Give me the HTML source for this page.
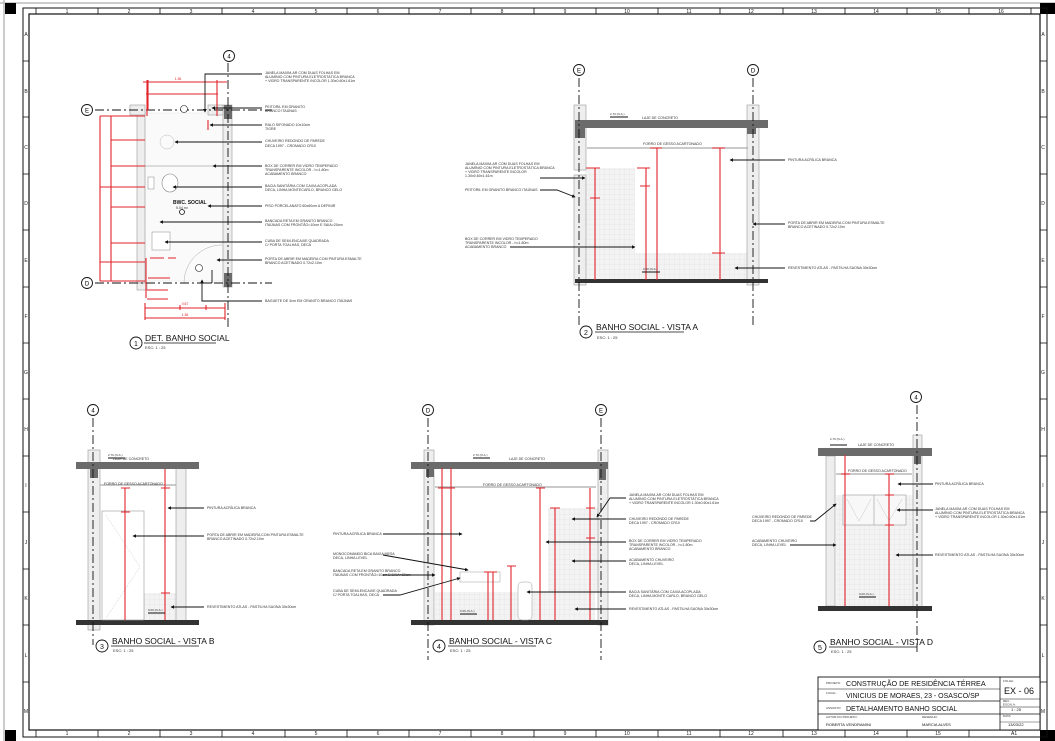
<!DOCTYPE html>
<html><head><meta charset="utf-8">
<style>
html,body{margin:0;padding:0;background:#fff;}
svg{display:block;font-family:"Liberation Sans",sans-serif;}
.t{font-size:3.6px;fill:#333;}
.r{stroke:#e0242b;stroke-width:1.1;fill:none;}
.rt{font-size:3.4px;fill:#e0242b;}
.a{stroke:#111;stroke-width:0.9;fill:none;}
g.a line, g.a polyline{marker-end:url(#ar);}
.dd{stroke:#111;stroke-width:0.9;stroke-dasharray:9 3 2 3;fill:none;}
.w{fill:#eee;stroke:#999;stroke-width:0.6;}
.sl{fill:#6b6b6b;}
.ttl{font-size:8.5px;fill:#111;}
.sc{font-size:4px;fill:#333;}
.lbl{font-size:7px;fill:#111;}
</style></head><body>
<svg width="1055" height="741" viewBox="0 0 1055 741" xmlns="http://www.w3.org/2000/svg">
<defs>
<pattern id="g" width="5" height="5" patternUnits="userSpaceOnUse"><rect width="5" height="5" fill="#f3f3f3"/><path d="M5 0V5H0" stroke="#d6d6d6" stroke-width="0.4" fill="none"/></pattern>
<marker id="ar" viewBox="0 0 6 6" refX="5" refY="3" markerWidth="4" markerHeight="4" orient="auto"><path d="M0 0L6 3L0 6z" fill="#111"/></marker>
</defs>
<rect x="0" y="0" width="1055" height="741" fill="#fff"/>
<line x1="4" y1="0" x2="4" y2="741" stroke="#bbb" stroke-width="1.5"/>
<line x1="0" y1="3" x2="1055" y2="3" stroke="#bbb" stroke-width="1.5"/>
<rect x="5" y="3" width="11" height="11" fill="#000"/>
<rect x="1040" y="3" width="15" height="11" fill="#000"/>
<rect x="5" y="730" width="11" height="11" fill="#000"/>
<rect x="1040" y="730" width="15" height="11" fill="#000"/>
<rect x="23" y="8" width="1024" height="729" fill="none" stroke="#111" stroke-width="1"/>
<rect x="29" y="14" width="1011" height="716" fill="none" stroke="#111" stroke-width="1.2"/>
<g stroke="#111" stroke-width="0.8">
<line x1="36" y1="8" x2="36" y2="14"/><line x1="98" y1="8" x2="98" y2="14"/><line x1="160" y1="8" x2="160" y2="14"/><line x1="222" y1="8" x2="222" y2="14"/><line x1="285" y1="8" x2="285" y2="14"/><line x1="347" y1="8" x2="347" y2="14"/><line x1="409" y1="8" x2="409" y2="14"/><line x1="471" y1="8" x2="471" y2="14"/><line x1="534" y1="8" x2="534" y2="14"/><line x1="596" y1="8" x2="596" y2="14"/><line x1="658" y1="8" x2="658" y2="14"/><line x1="720" y1="8" x2="720" y2="14"/><line x1="783" y1="8" x2="783" y2="14"/><line x1="845" y1="8" x2="845" y2="14"/><line x1="907" y1="8" x2="907" y2="14"/><line x1="969" y1="8" x2="969" y2="14"/><line x1="1031" y1="8" x2="1031" y2="14"/>
<line x1="36" y1="730" x2="36" y2="737"/><line x1="98" y1="730" x2="98" y2="737"/><line x1="160" y1="730" x2="160" y2="737"/><line x1="222" y1="730" x2="222" y2="737"/><line x1="285" y1="730" x2="285" y2="737"/><line x1="347" y1="730" x2="347" y2="737"/><line x1="409" y1="730" x2="409" y2="737"/><line x1="471" y1="730" x2="471" y2="737"/><line x1="534" y1="730" x2="534" y2="737"/><line x1="596" y1="730" x2="596" y2="737"/><line x1="658" y1="730" x2="658" y2="737"/><line x1="720" y1="730" x2="720" y2="737"/><line x1="783" y1="730" x2="783" y2="737"/><line x1="845" y1="730" x2="845" y2="737"/><line x1="907" y1="730" x2="907" y2="737"/><line x1="969" y1="730" x2="969" y2="737"/>
<line x1="23" y1="61" x2="29" y2="61"/><line x1="23" y1="117" x2="29" y2="117"/><line x1="23" y1="174" x2="29" y2="174"/><line x1="23" y1="230" x2="29" y2="230"/><line x1="23" y1="287" x2="29" y2="287"/><line x1="23" y1="343" x2="29" y2="343"/><line x1="23" y1="399" x2="29" y2="399"/><line x1="23" y1="456" x2="29" y2="456"/><line x1="23" y1="512" x2="29" y2="512"/><line x1="23" y1="569" x2="29" y2="569"/><line x1="23" y1="625" x2="29" y2="625"/><line x1="23" y1="682" x2="29" y2="682"/>
<line x1="1040" y1="61" x2="1047" y2="61"/><line x1="1040" y1="117" x2="1047" y2="117"/><line x1="1040" y1="174" x2="1047" y2="174"/><line x1="1040" y1="230" x2="1047" y2="230"/><line x1="1040" y1="287" x2="1047" y2="287"/><line x1="1040" y1="343" x2="1047" y2="343"/><line x1="1040" y1="399" x2="1047" y2="399"/><line x1="1040" y1="456" x2="1047" y2="456"/><line x1="1040" y1="512" x2="1047" y2="512"/><line x1="1040" y1="569" x2="1047" y2="569"/><line x1="1040" y1="625" x2="1047" y2="625"/><line x1="1040" y1="682" x2="1047" y2="682"/>
</g>
<g font-size="5" fill="#222" text-anchor="middle">
<text x="67" y="13">1</text><text x="129" y="13">2</text><text x="191" y="13">3</text><text x="253" y="13">4</text><text x="316" y="13">5</text><text x="378" y="13">6</text><text x="440" y="13">7</text><text x="502" y="13">8</text><text x="565" y="13">9</text><text x="627" y="13">10</text><text x="689" y="13">11</text><text x="751" y="13">12</text><text x="814" y="13">13</text><text x="876" y="13">14</text><text x="938" y="13">15</text><text x="1001" y="13">16</text>
<text x="67" y="735">1</text><text x="129" y="735">2</text><text x="191" y="735">3</text><text x="253" y="735">4</text><text x="316" y="735">5</text><text x="378" y="735">6</text><text x="440" y="735">7</text><text x="502" y="735">8</text><text x="565" y="735">9</text><text x="627" y="735">10</text><text x="689" y="735">11</text><text x="751" y="735">12</text><text x="814" y="735">13</text><text x="876" y="735">14</text><text x="938" y="735">15</text>
<text x="26" y="36">A</text><text x="26" y="93">B</text><text x="26" y="149">C</text><text x="26" y="205">D</text><text x="26" y="262">E</text><text x="26" y="318">F</text><text x="26" y="374">G</text><text x="26" y="431">H</text><text x="26" y="487">I</text><text x="26" y="544">J</text><text x="26" y="600">K</text><text x="26" y="657">L</text><text x="26" y="713">M</text>
<text x="1043" y="36">A</text><text x="1043" y="93">B</text><text x="1043" y="149">C</text><text x="1043" y="205">D</text><text x="1043" y="262">E</text><text x="1043" y="318">F</text><text x="1043" y="374">G</text><text x="1043" y="431">H</text><text x="1043" y="487">I</text><text x="1043" y="544">J</text><text x="1043" y="600">K</text><text x="1043" y="657">L</text><text x="1043" y="713">M</text>
</g>

<!-- VIEW 1 -->
<g>
<rect x="145" y="113" width="78" height="168" fill="#fafafa" stroke="#ddd" stroke-width="0.4"/>
<rect x="137" y="110" width="8" height="173" class="w"/>
<rect x="223" y="105" width="9" height="182" class="w"/>
<rect x="130" y="105" width="15" height="10" class="w"/>
<rect x="208" y="105" width="15" height="10" class="w"/>
<rect x="224" y="105" width="8" height="14" class="sl"/>
<rect x="224" y="273" width="8" height="14" class="sl"/>
<rect x="137" y="283" width="10" height="7" class="w"/>
<ellipse cx="170" cy="183" rx="8" ry="9" fill="#fff" stroke="#888" stroke-width="0.6"/>
<rect x="148" y="177" width="6" height="12" fill="#fff" stroke="#888" stroke-width="0.5"/>
<circle cx="167" cy="142" r="7" fill="none" stroke="#bbb" stroke-width="0.5"/>
<line x1="145" y1="166" x2="222" y2="166" stroke="#aaa" stroke-width="0.7"/>
<rect x="152" y="232" width="18" height="18" fill="#fff" stroke="#888" stroke-width="0.5"/>
<path d="M222 245 A38 38 0 0 0 184 283" fill="none" stroke="#aaa" stroke-width="0.5"/>
<line x1="95" y1="110" x2="272" y2="110" class="dd"/>
<line x1="95" y1="283" x2="272" y2="283" class="dd"/>
<line x1="228" y1="63" x2="228" y2="330" class="dd"/>
<circle cx="87" cy="110" r="5.5" fill="#fff" stroke="#111" stroke-width="0.9"/><text x="87" y="112.5" font-size="6" text-anchor="middle">E</text>
<circle cx="87" cy="283" r="5.5" fill="#fff" stroke="#111" stroke-width="0.9"/><text x="87" y="285.5" font-size="6" text-anchor="middle">D</text>
<circle cx="229" cy="56" r="5.5" fill="#fff" stroke="#111" stroke-width="0.9"/><text x="229" y="58.5" font-size="6" text-anchor="middle">4</text>
<circle cx="184" cy="109" r="3.5" fill="#fff" stroke="#111" stroke-width="0.6"/>
<circle cx="199" cy="268" r="3.5" fill="#fff" stroke="#111" stroke-width="0.6"/>
<path class="r" d="M100 116V281M111 116V281M100 116H145M111 140H145M111 166H145M100 187H145M111 207H145M111 243H145M100 262H145M100 281H145M147 80V116M217 80V116M143 82H227M148 80V110M146 94H218M146 258V298M164 258H150M168 258H176M148 278H170M147 290H168M147 299H168M145 303V320M225 303V320M145 308H225M145 318H225M180 305V310M206 305V310M208 120V130M213 125H225"/>
<text class="rt" x="178" y="80" text-anchor="middle">1.36</text>
<text class="rt" x="185" y="305" text-anchor="middle">0.67</text>
<text class="rt" x="185" y="316" text-anchor="middle">1.36</text>
<text x="173" y="204" font-size="5" font-weight="bold" fill="#111">BWC. SOCIAL</text>
<text x="176" y="209" font-size="3.5" fill="#333">5.04 m²</text>
<circle cx="182" cy="212" r="2.5" fill="none" stroke="#111" stroke-width="0.8"/>
<g class="a">
<polyline points="262,74 205,74 205,112"/>
<line x1="262" y1="108" x2="212" y2="108"/>
<line x1="262" y1="125" x2="210" y2="125"/>
<line x1="262" y1="142" x2="175" y2="142"/>
<line x1="262" y1="166" x2="213" y2="166"/>
<line x1="262" y1="187" x2="173" y2="187"/>
<line x1="262" y1="206" x2="208" y2="206"/>
<line x1="262" y1="222" x2="160" y2="222"/>
<line x1="262" y1="242" x2="165" y2="242"/>
<line x1="262" y1="260" x2="217" y2="260"/>
<polyline points="262,301 202,301 202,280"/>
<path d="M212 283V270M212 283H203"/>
</g>
<g class="t">
<text x="265" y="74">JANELA MAXIM-AR COM DUAS FOLHAS EM</text><text x="265" y="78">ALUMÍNIO COM PINTURA ELETROSTÁTICA BRANCA</text><text x="265" y="82">+ VIDRO TRANSPARENTE INCOLOR 1.30x0.60x1.61m</text>
<text x="265" y="108">PEITORIL EM GRANITO</text><text x="265" y="112">BRANCO ITAÚNAS</text>
<text x="265" y="126">RALO SIFONADO 10x10cm</text><text x="265" y="130">TIGRE</text>
<text x="265" y="142">CHUVEIRO REDONDO DE PAREDE</text><text x="265" y="147">DECA 1997 - CROMADO CR10</text>
<text x="265" y="167">BOX DE CORRER EM VIDRO TEMPERADO</text><text x="265" y="171">TRANSPARENTE INCOLOR - h=1.80m</text><text x="265" y="175">ACABAMENTO BRANCO</text>
<text x="265" y="187">BACIA SANITÁRIA COM CAIXA ACOPLADA</text><text x="265" y="191">DECA, LINHA MONTECARLO, BRANCO GELO</text>
<text x="265" y="207">PISO PORCELANATO 60x60cm A DEFINIR</text>
<text x="265" y="222">BANCADA RETA EM GRANITO BRANCO</text><text x="265" y="226">ITAÚNAS COM FRONTÃO=10cm E SAIA=20cm</text>
<text x="265" y="242">CUBA DE SEMI-ENCAIXE QUADRADA</text><text x="265" y="246">C/ PORTA TOALHAS, DECA</text>
<text x="265" y="260">PORTA DE ABRIR EM MADEIRA COM PINTURA ESMALTE</text><text x="265" y="264">BRANCO ACETINADO 0.72x2.10m</text>
<text x="265" y="302">BAGUETE DE 3cm EM GRANITO BRANCO ITAÚNAS</text>
</g>
<circle cx="136" cy="343" r="6" fill="#fff" stroke="#111" stroke-width="0.9"/><text x="136" y="346" class="lbl" text-anchor="middle">1</text>
<text x="145" y="341" class="ttl">DET. BANHO SOCIAL</text>
<line x1="144" y1="343" x2="216" y2="343" stroke="#111" stroke-width="0.7"/>
<text x="145" y="349" class="sc">ESC:  1 : 25</text>
</g>

<!-- VISTA A -->
<g>
<rect x="585" y="168" width="50" height="112" fill="url(#g)"/>
<rect x="635" y="253" width="113" height="27" fill="url(#g)"/>
<rect x="574" y="105" width="12" height="65" class="w"/>
<rect x="574" y="175" width="12" height="110" class="w"/>
<rect x="747" y="105" width="12" height="180" class="w"/>
<rect x="575" y="120" width="193" height="8" class="sl"/>
<rect x="575" y="120" width="10" height="18" class="sl"/>
<rect x="747" y="120" width="9" height="14" class="sl"/>
<rect x="575" y="279" width="193" height="4" fill="#333"/>
<line x1="587" y1="148" x2="748" y2="148" stroke="#aaa" stroke-width="1.3"/>
<line x1="579" y1="78" x2="579" y2="325" class="dd"/>
<line x1="753" y1="78" x2="753" y2="325" class="dd"/>
<circle cx="579" cy="70" r="5.5" fill="#fff" stroke="#111" stroke-width="0.9"/><text x="579" y="72.5" font-size="6" text-anchor="middle">E</text>
<circle cx="753" cy="70" r="5.5" fill="#fff" stroke="#111" stroke-width="0.9"/><text x="753" y="72.5" font-size="6" text-anchor="middle">D</text>
<path class="r" d="M595 168V280M646 168V280M657 148V280M720 148V280M586 168H600M590 198H600M637 168H650M640 186H650M650 148H662M712 148H725M712 253H725"/>
<line x1="610" y1="117" x2="628" y2="117" class="a"/><line x1="642" y1="272" x2="660" y2="272" class="a"/>
<text x="610" y="115" font-size="3" fill="#333">2.70 (N.A.)</text>
<text x="643" y="270" font-size="3" fill="#333">0.00 (N.A.)</text>
<text x="642" y="119" class="t">LAJE DE CONCRETO</text>
<text x="643" y="145" class="t">FORRO DE GESSO ACARTONADO</text>
<g class="a">
<line x1="540" y1="178" x2="585" y2="178"/>
<polyline points="540,190 557,190 575,197"/>
<line x1="510" y1="247" x2="635" y2="247"/>
<line x1="785" y1="160" x2="730" y2="160"/>
<line x1="785" y1="224" x2="753" y2="224"/>
<line x1="785" y1="268" x2="735" y2="268"/>
</g>
<g class="t">
<text x="465" y="165">JANELA MAXIM-AR COM DUAS FOLHAS EM</text><text x="465" y="169">ALUMÍNIO COM PINTURA ELETROSTÁTICA BRANCA</text><text x="465" y="173">+ VIDRO TRANSPARENTE INCOLOR</text><text x="465" y="177">1.30x0.60x1.61m</text>
<text x="465" y="191">PEITORIL EM GRANITO BRANCO ITAÚNAS</text>
<text x="465" y="240">BOX DE CORRER EM VIDRO TEMPERADO</text><text x="465" y="244">TRANSPARENTE INCOLOR - h=1.80m</text><text x="465" y="248">ACABAMENTO BRANCO</text>
<text x="788" y="161">PINTURA ACRÍLICA BRANCA</text>
<text x="788" y="224">PORTA DE ABRIR EM MADEIRA COM PINTURA ESMALTE</text><text x="788" y="228">BRANCO ACETINADO 0.72x2.10m</text>
<text x="788" y="269">REVESTIMENTO ATLAS - PASTILHA SAONA 30x30cm</text>
</g>
<circle cx="586" cy="332" r="6" fill="#fff" stroke="#111" stroke-width="0.9"/><text x="586" y="335" class="lbl" text-anchor="middle">2</text>
<text x="596" y="330" class="ttl">BANHO SOCIAL - VISTA A</text>
<line x1="595" y1="332" x2="684" y2="332" stroke="#111" stroke-width="0.7"/>
<text x="597" y="339" class="sc">ESC:  1 : 25</text>
</g>

<!-- VISTA B -->
<g>
<rect x="144" y="593" width="32" height="28" fill="url(#g)"/>
<rect x="88" y="450" width="12" height="180" class="w"/>
<rect x="176" y="468" width="10" height="155" class="w"/>
<rect x="76" y="462" width="123" height="7" class="sl"/>
<rect x="90" y="462" width="8" height="16" class="sl"/>
<rect x="76" y="620" width="123" height="5" fill="#333"/>
<line x1="100" y1="485" x2="176" y2="485" stroke="#aaa" stroke-width="1.3"/>
<rect x="102" y="511" width="42" height="109" fill="#fff" stroke="#999" stroke-width="0.6"/>
<polyline points="106,515 140,567 106,618" fill="none" stroke="#bbb" stroke-width="0.4" stroke-dasharray="2 1"/>
<line x1="93" y1="418" x2="93" y2="645" class="dd"/>
<circle cx="93" cy="410" r="5.5" fill="#fff" stroke="#111" stroke-width="0.9"/><text x="93" y="412.5" font-size="6" text-anchor="middle">4</text>
<path class="r" d="M125 488V620M165 469V620M121 488H130M121 512H130M161 488H170M161 593H170"/>
<line x1="108" y1="458" x2="125" y2="458" class="a"/><text x="108" y="456" font-size="3" fill="#333">2.70 (N.A.)</text>
<line x1="148" y1="613" x2="165" y2="613" class="a"/><text x="148" y="611" font-size="3" fill="#333">0.00 (N.A.)</text>
<text x="113" y="460" class="t">LAJE DE CONCRETO</text>
<text x="104" y="485" class="t">FORRO DE GESSO ACARTONADO</text>
<g class="a"><line x1="204" y1="508" x2="168" y2="508"/><line x1="204" y1="536" x2="133" y2="536"/><line x1="204" y1="607" x2="171" y2="607"/></g>
<g class="t">
<text x="207" y="509">PINTURA ACRÍLICA BRANCA</text>
<text x="207" y="536">PORTA DE ABRIR EM MADEIRA COM PINTURA ESMALTE</text><text x="207" y="540">BRANCO ACETINADO 0.72x2.10m</text>
<text x="207" y="608">REVESTIMENTO ATLAS - PASTILHA SAONA 30x30cm</text>
</g>
<circle cx="102" cy="646" r="6" fill="#fff" stroke="#111" stroke-width="0.9"/><text x="102" y="649" class="lbl" text-anchor="middle">3</text>
<text x="112" y="644" class="ttl">BANHO SOCIAL - VISTA B</text>
<line x1="111" y1="646" x2="199" y2="646" stroke="#111" stroke-width="0.7"/>
<text x="113" y="652" class="sc">ESC:  1 : 25</text>
</g>

<!-- VISTA C -->
<g>
<rect x="435" y="592" width="160" height="29" fill="url(#g)"/>
<rect x="548" y="508" width="50" height="84" fill="url(#g)"/>
<rect x="424" y="450" width="10" height="175" class="w"/>
<rect x="598" y="450" width="10" height="175" class="w"/>
<rect x="411" y="462" width="197" height="7" class="sl"/>
<rect x="426" y="462" width="8" height="15" class="sl"/>
<rect x="599" y="462" width="7" height="18" class="sl"/>
<rect x="411" y="620" width="197" height="5" fill="#333"/>
<line x1="435" y1="487" x2="596" y2="487" stroke="#aaa" stroke-width="1.3"/>
<rect x="460" y="572" width="40" height="10" fill="#fff" stroke="#999" stroke-width="0.5"/>
<rect x="518" y="582" width="14" height="38" rx="4" fill="#fff" stroke="#999" stroke-width="0.5"/>
<line x1="428" y1="418" x2="428" y2="660" class="dd"/>
<line x1="601" y1="418" x2="601" y2="660" class="dd"/>
<circle cx="428" cy="410" r="5.5" fill="#fff" stroke="#111" stroke-width="0.9"/><text x="428" y="412.5" font-size="6" text-anchor="middle">D</text>
<circle cx="601" cy="410" r="5.5" fill="#fff" stroke="#111" stroke-width="0.9"/><text x="601" y="412.5" font-size="6" text-anchor="middle">E</text>
<path class="r" d="M442 468V620M451 468V620M540 488V620M590 488V620M555 508V620M488 572V620M493 572V620M511 566V620M438 488H455M536 488H545M550 508H560M586 508H595M586 538H595M484 572H497M507 566H516"/>
<line x1="473" y1="458" x2="490" y2="458" class="a"/><text x="473" y="456" font-size="3" fill="#333">2.70 (N.A.)</text>
<line x1="460" y1="614" x2="477" y2="614" class="a"/><text x="460" y="612" font-size="3" fill="#333">0.00 (N.A.)</text>
<text x="509" y="460" class="t">LAJE DE CONCRETO</text>
<text x="483" y="486" class="t">FORRO DE GESSO ACARTONADO</text>
<g class="a">
<line x1="383" y1="534" x2="462" y2="534"/>
<line x1="383" y1="555" x2="468" y2="570"/>
<line x1="383" y1="575" x2="435" y2="575"/>
<polyline points="383,595 400,595 460,578"/>
<polyline points="626,498 610,498 597,517"/>
<line x1="626" y1="519" x2="572" y2="519"/>
<line x1="626" y1="542" x2="546" y2="542"/>
<line x1="626" y1="561" x2="572" y2="561"/>
<line x1="626" y1="592" x2="527" y2="592"/>
<line x1="626" y1="609" x2="575" y2="609"/>
</g>
<g class="t">
<text x="333" y="535">PINTURA ACRÍLICA BRANCA</text>
<text x="333" y="555">MONOCOMANDO BICA BAIXA MESA</text><text x="333" y="559">DECA, LINHA LEVEL</text>
<text x="333" y="572">BANCADA RETA EM GRANITO BRANCO</text><text x="333" y="576">ITAÚNAS COM FRONTÃO=10cm E SAIA=20cm</text>
<text x="333" y="592">CUBA DE SEMI-ENCAIXE QUADRADA</text><text x="333" y="596">C/ PORTA TOALHAS, DECA</text>
<text x="629" y="496">JANELA MAXIM-AR COM DUAS FOLHAS EM</text><text x="629" y="500">ALUMÍNIO COM PINTURA ELETROSTÁTICA BRANCA</text><text x="629" y="504">+ VIDRO TRANSPARENTE INCOLOR 1.30x0.60x1.61m</text>
<text x="629" y="520">CHUVEIRO REDONDO DE PAREDE</text><text x="629" y="524">DECA 1997 - CROMADO CR10</text>
<text x="629" y="542">BOX DE CORRER EM VIDRO TEMPERADO</text><text x="629" y="546">TRANSPARENTE INCOLOR - h=1.80m</text><text x="629" y="550">ACABAMENTO BRANCO</text>
<text x="629" y="561">ACABAMENTO CHUVEIRO</text><text x="629" y="565">DECA,  LINHA LEVEL</text>
<text x="629" y="593">BACIA SANITÁRIA COM CAIXA ACOPLADA</text><text x="629" y="597">DECA, LINHA MONTE CARLO, BRANCO GELO</text>
<text x="629" y="610">REVESTIMENTO ATLAS - PASTILHA SAONA 30x30cm</text>
</g>
<circle cx="439" cy="646" r="6" fill="#fff" stroke="#111" stroke-width="0.9"/><text x="439" y="649" class="lbl" text-anchor="middle">4</text>
<text x="449" y="644" class="ttl">BANHO SOCIAL - VISTA C</text>
<line x1="448" y1="646" x2="536" y2="646" stroke="#111" stroke-width="0.7"/>
<text x="450" y="652" class="sc">ESC:  1 : 25</text>
</g>

<!-- VISTA D -->
<g>
<rect x="836" y="495" width="77" height="111" fill="url(#g)"/>
<rect x="826" y="456" width="9" height="150" class="w"/>
<rect x="913" y="435" width="9" height="175" class="w"/>
<rect x="818" y="448" width="114" height="8" class="sl"/>
<rect x="914" y="448" width="7" height="16" class="sl"/>
<rect x="818" y="606" width="114" height="5" fill="#333"/>
<line x1="836" y1="474" x2="912" y2="474" stroke="#aaa" stroke-width="1.3"/>
<rect x="843" y="495" width="63" height="30" fill="#f8f8f8" stroke="#999" stroke-width="0.6"/>
<line x1="874" y1="495" x2="874" y2="525" stroke="#999" stroke-width="0.6"/>
<polyline points="847,499 859,521 871,499" fill="none" stroke="#bbb" stroke-width="0.4"/>
<polyline points="877,499 889,521 902,499" fill="none" stroke="#bbb" stroke-width="0.4"/>
<line x1="917" y1="405" x2="917" y2="655" class="dd"/>
<circle cx="916" cy="397" r="5.5" fill="#fff" stroke="#111" stroke-width="0.9"/><text x="916" y="399.5" font-size="6" text-anchor="middle">4</text>
<path class="r" d="M845 455V606M889 474V606M841 474H850M885 474H894M885 495H894M885 525H894"/>
<line x1="830" y1="445" x2="847" y2="445" class="a"/><text x="830" y="440" font-size="3" fill="#333">2.70 (N.A.)</text>
<line x1="859" y1="597" x2="876" y2="597" class="a"/><text x="859" y="595" font-size="3" fill="#333">0.00 (N.A.)</text>
<text x="858" y="446" class="t">LAJE DE CONCRETO</text>
<text x="848" y="472" class="t">FORRO DE GESSO ACARTONADO</text>
<g class="a">
<polyline points="810,521 815,521 836,504"/>
<line x1="790" y1="545" x2="836" y2="545"/>
<line x1="933" y1="484" x2="898" y2="484"/>
<line x1="933" y1="510" x2="897" y2="510"/>
<line x1="933" y1="555" x2="896" y2="555"/>
</g>
<g class="t">
<text x="752" y="518">CHUVEIRO REDONDO DE PAREDE</text><text x="752" y="522">DECA 1997 - CROMADO CR10</text>
<text x="752" y="542">ACABAMENTO CHUVEIRO</text><text x="752" y="546">DECA,  LINHA LEVEL</text>
<text x="935" y="485">PINTURA ACRÍLICA BRANCA</text>
<text x="935" y="510">JANELA MAXIM-AR COM DUAS FOLHAS EM</text><text x="935" y="514">ALUMÍNIO COM PINTURA ELETROSTÁTICA BRANCA</text><text x="935" y="518">+ VIDRO TRANSPARENTE INCOLOR 1.30x0.60x1.61m</text>
<text x="935" y="556">REVESTIMENTO ATLAS - PASTILHA SAONA 30x30cm</text>
</g>
<circle cx="820" cy="647" r="6" fill="#fff" stroke="#111" stroke-width="0.9"/><text x="820" y="650" class="lbl" text-anchor="middle">5</text>
<text x="830" y="645" class="ttl">BANHO SOCIAL - VISTA D</text>
<line x1="829" y1="647" x2="917" y2="647" stroke="#111" stroke-width="0.7"/>
<text x="831" y="653" class="sc">ESC:  1 : 25</text>
</g>

<!-- TITLE BLOCK -->
<g>
<rect x="818" y="677" width="222" height="53" fill="#fff" stroke="#111" stroke-width="0.9"/>
<line x1="818" y1="701" x2="1000" y2="701" stroke="#111" stroke-width="0.8"/>
<line x1="818" y1="714" x2="1040" y2="714" stroke="#111" stroke-width="0.8"/>
<line x1="818" y1="689" x2="1000" y2="689" stroke="#111" stroke-width="0.5"/>
<line x1="1000" y1="677" x2="1000" y2="730" stroke="#111" stroke-width="0.8"/>
<line x1="1000" y1="699" x2="1040" y2="699" stroke="#111" stroke-width="0.5"/>
<line x1="1000" y1="707" x2="1040" y2="707" stroke="#111" stroke-width="0.5"/>
<line x1="1000" y1="722" x2="1040" y2="722" stroke="#111" stroke-width="0.4"/>
<g font-size="3" fill="#333">
<text x="826" y="684">PROJETO:</text><text x="826" y="694">LOCAL:</text><text x="826" y="709">ASSUNTO:</text>
<text x="826" y="718">AUTOR DO PROJETO:</text><text x="922" y="718">DESENHO:</text>
<text x="1003" y="682">FOLHA:</text><text x="1003" y="702">REV.:</text><text x="1003" y="705.5">ESCALA:</text><text x="1003" y="717">DATA:</text>
</g>
<text x="846" y="686" font-size="7.2" fill="#111">CONSTRUÇÃO DE RESIDÊNCIA TÉRREA</text>
<text x="846" y="698" font-size="7" fill="#111">VINICIUS DE MORAES, 23 - OSASCO/SP</text>
<text x="846" y="711" font-size="7" fill="#111">DETALHAMENTO BANHO SOCIAL</text>
<text x="1004" y="694" font-size="9" fill="#111">EX - 06</text>
<text x="1011" y="711" font-size="4" fill="#111">1 : 25</text>
<text x="826" y="726" font-size="4" fill="#111">ROBERTA VENDRAMINI</text>
<text x="922" y="726" font-size="4" fill="#111">MARCIA ALVES</text>
<text x="1008" y="726" font-size="4" fill="#111">13/03/22</text>
<text x="1011" y="735" font-size="5" fill="#111">A1</text>
</g>
</svg>
</body></html>
